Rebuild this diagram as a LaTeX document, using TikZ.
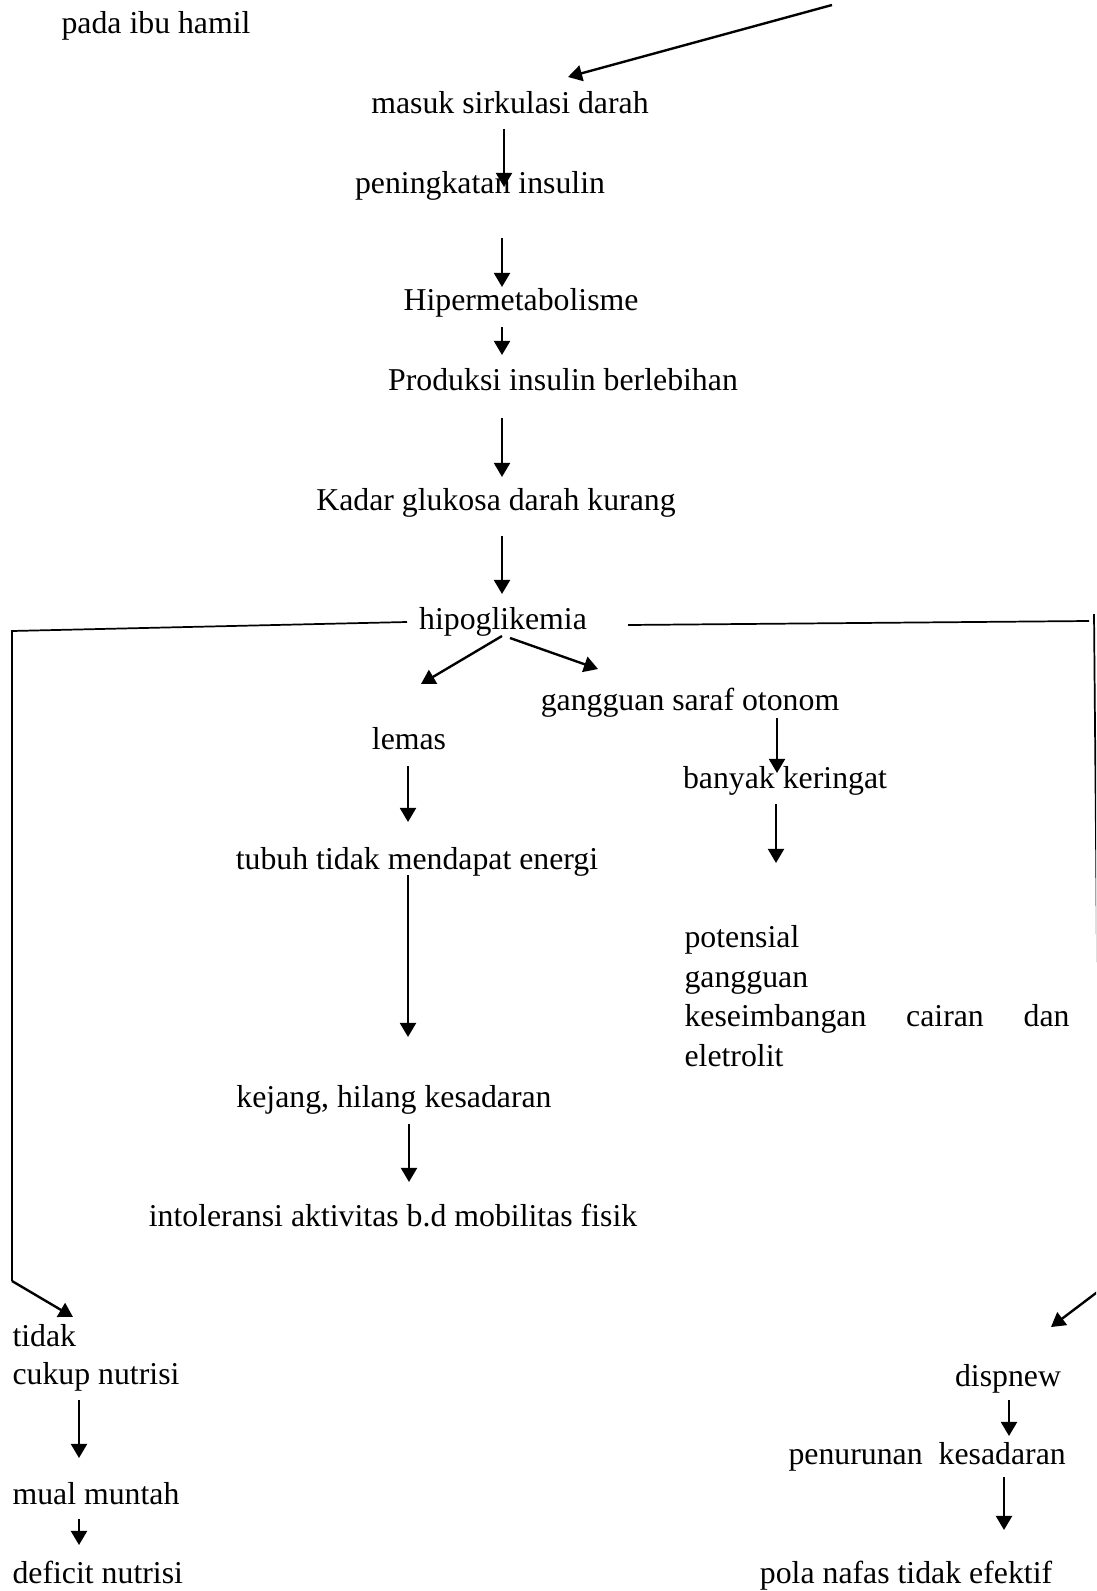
\documentclass[tikz,border=0pt]{standalone}
\usepackage{fontspec}
\setmainfont{Liberation Serif}
\usepackage{tikz}
\usetikzlibrary{arrows.meta, calc, positioning}

\begin{document}
\begin{tikzpicture}[x=0.3774pt, y=-0.3774pt,
		txt/.style={inner sep=0pt, font=\fontsize{12}{15}\selectfont},
		arr/.style={line width=0.9pt, -{Triangle[length=5.3pt, width=6pt]}},
		branch/.style={line width=0.65pt}]
		\useasboundingbox (0,0) rectangle (1096,1591);
		\clip (0,0) rectangle (1096,1591);
		
		% main chain
		\node[txt, anchor=base west] (pada) at (61,34) {pada ibu hamil};
		\node[txt, anchor=base] (masuk) at (510,114) {masuk sirkulasi darah};
		\node[txt, anchor=base] (pening) at (480,194) {peningkatan insulin};
		\node[txt, anchor=base] (hiper) at (521,311) {Hipermetabolisme};
		\node[txt, anchor=base] (produksi) at (563,391) {Produksi insulin berlebihan};
		\node[txt, anchor=base] (kadar) at (496,510) {Kadar glukosa darah kurang};
		\node[txt, anchor=base] (hipo) at (503,629) {hipoglikemia};
		
		% middle branches
		\node[txt, anchor=base] (gangguan) at (690,710) {gangguan saraf otonom};
		\node[txt, anchor=base] (lemas) at (409,749) {lemas};
		\node[txt, anchor=base] (tubuh) at (417,869) {tubuh tidak mendapat energi};
		\node[txt, anchor=base] (kejang) at (394,1107) {kejang, hilang kesadaran};
		\node[txt, anchor=base] (intol) at (393,1226) {intoleransi aktivitas b.d mobilitas fisik};
		\node[txt, anchor=base] (banyak) at (785,788) {banyak keringat};
		\node[txt, anchor=base west] (pot1) at (684,947) {potensial};
		\node[txt, anchor=base west] (pot2) at (684,987) {gangguan};
		\node[txt, anchor=base west] (pot3) at (684,1026) {\hbox to 145.3pt{keseimbangan\hfill cairan\hfill dan}};
		\node[txt, anchor=base west] (pot4) at (684,1066) {eletrolit};
		
		% side branches
		\node[txt, anchor=base west] (tidak) at (12,1346) {tidak};
		\node[txt, anchor=base west] (cukup) at (12,1384) {cukup nutrisi};
		\node[txt, anchor=base west] (mual) at (12,1504) {mual muntah};
		\node[txt, anchor=base west] (deficit) at (12,1583) {deficit nutrisi};
		\node[txt, anchor=base] (dispnew) at (1008,1386) {dispnew};
		\node[txt, anchor=base west] (penurunan) at (788,1464) {penurunan\ \ kesadaran};
		\node[txt, anchor=base] (pola) at (906,1583) {pola nafas tidak efektif};
		
		\coordinate (src) at (832,5);
		\coordinate (lc1) at (12,631);
		\coordinate (lc2) at (12,1281);
		\coordinate (rc0) at (1089,621);
		\coordinate (rc1) at (1094,614);
		\coordinate (rc2) at (1100,1290);
		
		\draw[arr] (src) -- ([shift={(58,-37)}]masuk.base);
		\draw[arr] ([shift={(-6,15)}]masuk.base) -- ([shift={(24,-7)}]pening.base);
		\draw[arr] ([shift={(22,44)}]pening.base) -- ([shift={(-19,-24)}]hiper.base);
		\draw[arr] ([shift={(-19,16)}]hiper.base) -- ([shift={(-61,-36)}]produksi.base);
		\draw[arr] ([shift={(-61,27)}]produksi.base) -- ([shift={(6,-33)}]kadar.base);
		\draw[arr] ([shift={(6,26)}]kadar.base) -- ([shift={(-1,-35)}]hipo.base);
		\draw[arr] ([shift={(-1,7)}]hipo.base) -- ([shift={(12,-65)}]lemas.base);
		\draw[arr] ([shift={(7,9)}]hipo.base) -- ([shift={(-92,-41)}]gangguan.base);
		\draw[arr] ([shift={(87,8)}]gangguan.base) -- ([shift={(-8,-15)}]banyak.base);
		\draw[arr] ([shift={(-9,16)}]banyak.base) -- ([shift={(92,-84)}]pot1.base west);
		\draw[arr] ([shift={(-1,17)}]lemas.base) -- ([shift={(-9,-47)}]tubuh.base);
		\draw[arr] ([shift={(-9,6)}]tubuh.base) -- ([shift={(14,-70)}]kejang.base);
		\draw[arr] ([shift={(15,17)}]kejang.base) -- ([shift={(16,-44)}]intol.base);
		
		\draw[branch] ([shift={(-96,-7)}]hipo.base) -- (lc1) -- (lc2);
		\draw[arr] (lc2) -- ([shift={(61,-29)}]tidak.base west);
		\draw[branch] ([shift={(125,-4)}]hipo.base) -- (rc0);
		\draw[branch] (rc1) -- (rc2);
		\draw[arr] (rc2) -- ([shift={(43,-59)}]dispnew.base);
		
		\draw[arr] ([shift={(67,16)}]cukup.base west) -- ([shift={(67,-46)}]mual.base west);
		\draw[arr] ([shift={(67,15)}]mual.base west) -- ([shift={(67,-38)}]deficit.base west);
		\draw[arr] ([shift={(1,14)}]dispnew.base) -- ([shift={(221,-28)}]penurunan.base west);
		\draw[arr] ([shift={(216,13)}]penurunan.base west) -- ([shift={(98,-53)}]pola.base);
\end{tikzpicture}
\end{document}
